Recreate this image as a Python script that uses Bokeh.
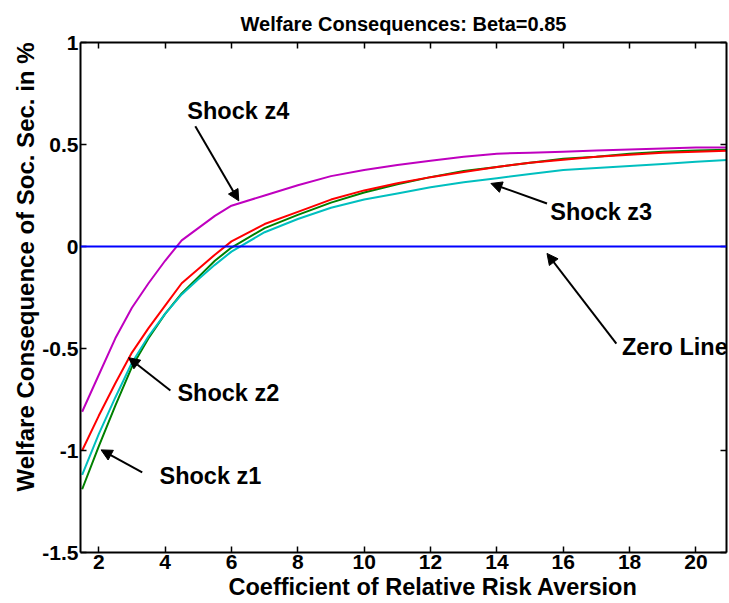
import math
from bokeh.plotting import figure
from bokeh.models import (Arrow, NormalHead, Label, LinearAxis, Range1d, FixedTicker,
                          CustomJSTickFormatter, Span, Title)
from bokeh.embed import file_html
from bokeh.resources import INLINE

# ---------------- data ----------------
risk_aversion = [1.5, 2, 2.5, 3, 3.5, 4, 4.5, 5, 5.5, 6, 7, 8, 9, 10, 11, 12, 13,
                 14, 15, 16, 17, 18, 19, 20, 21]
shock_z1 = [-1.19, -0.98, -0.78, -0.59, -0.45, -0.33, -0.23, -0.15, -0.07, -0.005,
            0.09, 0.155, 0.215, 0.265, 0.305, 0.34, 0.37, 0.39, 0.41, 0.43, 0.44,
            0.455, 0.465, 0.47, 0.475]
shock_z2 = [-1.0, -0.83, -0.67, -0.52, -0.40, -0.29, -0.18, -0.11, -0.04, 0.025,
            0.11, 0.17, 0.23, 0.275, 0.31, 0.34, 0.365, 0.39, 0.41, 0.425, 0.44,
            0.45, 0.46, 0.465, 0.47]
shock_z3 = [-1.12, -0.92, -0.74, -0.57, -0.44, -0.33, -0.235, -0.16, -0.09, -0.025,
            0.07, 0.135, 0.19, 0.23, 0.26, 0.29, 0.315, 0.335, 0.355, 0.375, 0.385,
            0.395, 0.405, 0.415, 0.425]
shock_z4 = [-0.81, -0.63, -0.45, -0.30, -0.18, -0.07, 0.03, 0.09, 0.15, 0.20,
            0.25, 0.30, 0.345, 0.375, 0.40, 0.42, 0.44, 0.455, 0.46, 0.465, 0.47,
            0.475, 0.48, 0.485, 0.485]
zero_level = 0.0

x_ticks = [2, 4, 6, 8, 10, 12, 14, 16, 18, 20]
y_ticks = [-1.5, -1, -0.5, 0, 0.5, 1]

title_text = "Welfare Consequences: Beta=0.85"
x_label = "Coefficient of Relative Risk Aversion"
y_label = "Welfare Consequence of Soc. Sec. in %"

# annotation texts and arrow ends (data units)
annotation_texts = ["Shock z4", "Shock z2", "Shock z1", "Shock z3", "Zero Line"]
annotation_text_x = [4.67, 4.37, 3.83, 15.61, 17.77]
annotation_text_y = [0.665, -0.72, -1.123, 0.170, -0.493]
arrow_from_x = [4.91, 4.16, 3.31, 15.51, 17.60]
arrow_from_y = [0.590, -0.706, -1.107, 0.211, -0.476]
arrow_to_x = [6.22, 2.90, 2.07, 13.82, 15.51]
arrow_to_y = [0.224, -0.545, -0.997, 0.309, -0.034]

FONT = "Liberation Sans"

p = figure(width=729, height=603, output_backend="svg", toolbar_location=None,
           x_range=Range1d(1.45, 20.92), y_range=Range1d(-1.5, 1.0),
           min_border_left=80, min_border_right=3, min_border_top=42,
           min_border_bottom=51)
p.grid.visible = False
p.outline_line_color = None
p.background_fill_color = "white"
p.border_fill_color = "white"

p.title.text = title_text
p.title.text_font = FONT
p.title.text_font_size = "20px"
p.title.text_font_style = "bold"
p.title.text_color = "black"
p.title.align = "center"
p.title.standoff = 16

fmt = CustomJSTickFormatter(code="return tick.toString();")

def style_axis(ax, ticks, show_labels):
    ax.ticker = FixedTicker(ticks=ticks)
    ax.axis_line_width = 2
    ax.axis_line_color = "black"
    ax.major_tick_in = 6
    ax.major_tick_out = 0
    ax.major_tick_line_width = 1.5
    ax.major_tick_line_color = "black"
    ax.minor_tick_in = 0
    ax.minor_tick_out = 0
    ax.major_label_text_font = FONT
    ax.major_label_text_font_style = "bold"
    ax.major_label_text_color = "black"
    if show_labels:
        ax.major_label_text_font_size = "21px"
    else:
        ax.major_label_text_font_size = "0px"
        ax.major_label_standoff = 0

xa = p.xaxis[0]
style_axis(xa, x_ticks, True)
xa.formatter = fmt
xa.major_label_standoff = 2

ya = p.yaxis[0]
style_axis(ya, y_ticks, True)
ya.formatter = fmt
ya.major_label_standoff = 2

top_axis = LinearAxis()
style_axis(top_axis, x_ticks, False)
top_axis.formatter = CustomJSTickFormatter(code="return '';")
p.add_layout(top_axis, "above")

right_axis = LinearAxis()
style_axis(right_axis, y_ticks, False)
right_axis.formatter = CustomJSTickFormatter(code="return '';")
p.add_layout(right_axis, "right")

# x label as a bottom title, shifted to the right like the reference
p.add_layout(Title(text=x_label, align="left", offset=148, text_font=FONT,
                   text_font_size="23.5px", text_font_style="bold",
                   text_color="black", standoff=0), "below")

# y label as a side title aligned towards the top of the frame
p.add_layout(Title(text=y_label, align="right", text_font=FONT,
                   text_font_size="24px", text_font_style="bold",
                   text_color="black", standoff=2), "left")

# zero line
p.add_layout(Span(location=zero_level, dimension="width", line_color="#0000FF",
                  line_width=2))

# series
p.line(risk_aversion, shock_z1, line_color="#008000", line_width=2)
p.line(risk_aversion, shock_z3, line_color="#00BFBF", line_width=2)
p.line(risk_aversion, shock_z2, line_color="#FF0000", line_width=2)
p.line(risk_aversion, shock_z4, line_color="#BF00BF", line_width=2)

# annotations
for i, t in enumerate(annotation_texts):
    p.add_layout(Label(x=annotation_text_x[i], y=annotation_text_y[i], text=t,
                       text_align="left", text_baseline="middle",
                       text_font=FONT, text_font_size="23.5px",
                       text_font_style="bold", text_color="black"))
    p.add_layout(Arrow(end=NormalHead(size=11, fill_color="black",
                                      line_color="black", line_width=1),
                       x_start=arrow_from_x[i], y_start=arrow_from_y[i],
                       x_end=arrow_to_x[i], y_end=arrow_to_y[i],
                       line_width=2, line_color="black"))

open("out.html", "w").write(file_html(p, INLINE))
